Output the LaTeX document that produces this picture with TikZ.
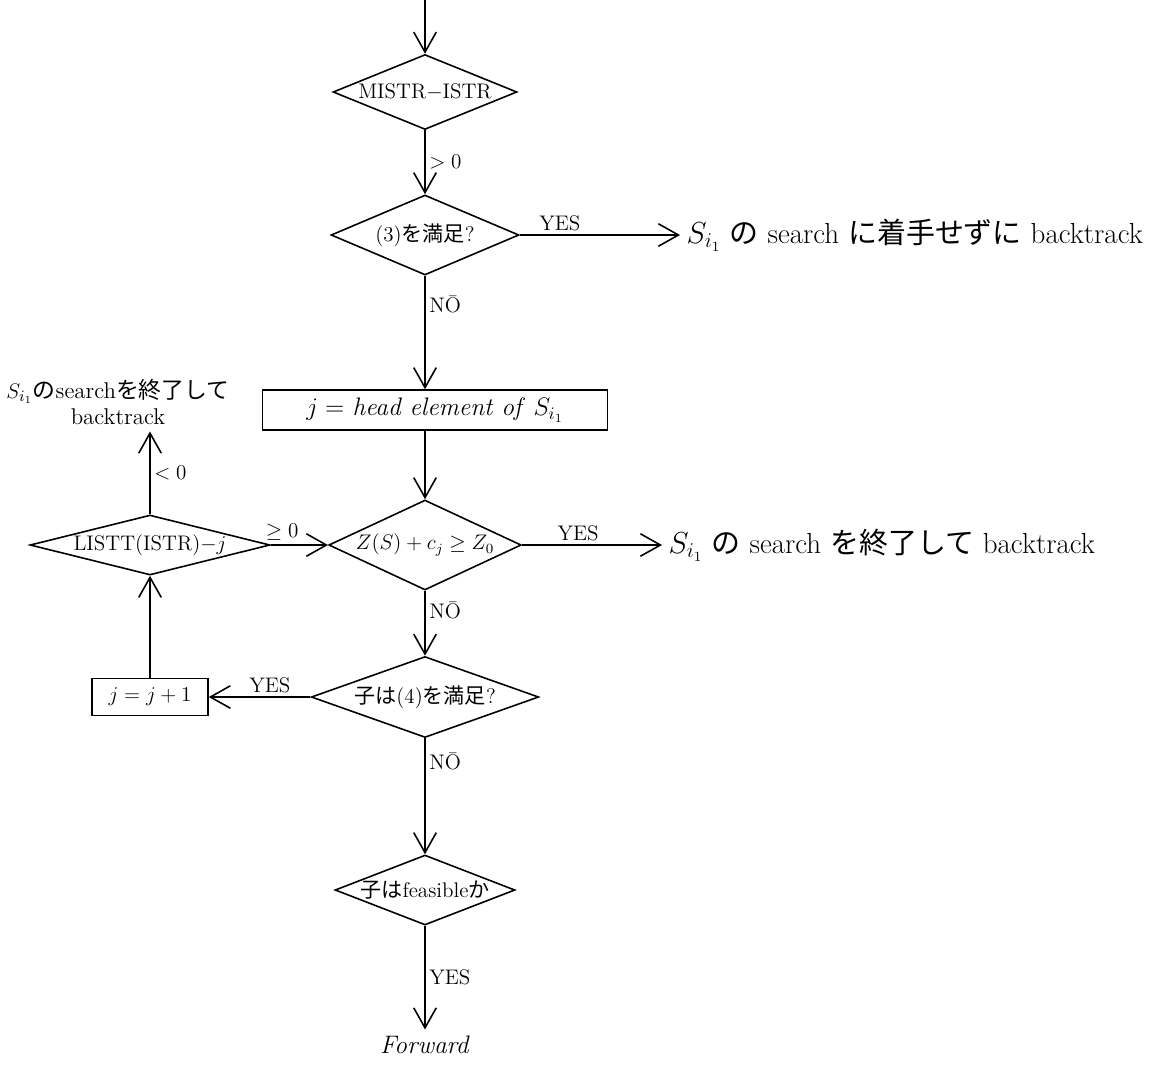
\documentclass[tikz,border=0pt]{standalone}
\usepackage{amsmath}
\usepackage{amssymb}
\usepackage{fontspec}
\usepackage{tikz}
\usetikzlibrary{shapes.geometric, arrows.meta}
\newfontfamily\jp{Noto Sans CJK JP}
\newcommand{\Sii}{S_{i_1}}

\begin{document}
\begin{tikzpicture}[x=0.02cm, y=-0.02cm, line width=0.9pt, font=\large,
    dec/.style={draw, diamond, inner sep=0pt},
    box/.style={draw, rectangle, inner sep=0pt},
    arr/.style={-{Straight Barb[length=4mm, width=4.5mm]}},
    lbl/.style={inner sep=2pt},
    far/.style={anchor=west, font=\fontsize{16.5}{19}\selectfont}]
  \useasboundingbox (0,0) rectangle (1175,1066);
  \coordinate (in) at (425,0);
  \node[dec, aspect=2.45, minimum width=3.68cm, minimum height=1.5cm] (d1) at (425,92) {MISTR$-$ISTR};
  \node[dec, aspect=2.35, minimum width=3.76cm, minimum height=1.6cm] (d2) at (425,235) {(3){\jp を満足}?};
  \node[box, minimum width=6.9cm, minimum height=0.8cm, font=\Large] (b1) at (435,410) {$j=$ \textit{head element of} $\Sii$};
  \node[dec, aspect=2.14, minimum width=3.85cm, minimum height=1.8cm] (d3) at (425,545) {$Z(S)+c_j\geq Z_0$};
  \node[dec, aspect=2.8, minimum width=4.55cm, minimum height=1.62cm] (d4) at (425,697) {{\jp 子は}(4){\jp を満足}?};
  \node[dec, aspect=4, minimum width=4.8cm, minimum height=1.2cm] (d5) at (150,545) {LISTT(ISTR)$-j$};
  \node[box, minimum width=2.32cm, minimum height=0.74cm] (b2) at (150,697) {$j=j+1$};
  \node[dec, aspect=2.57, minimum width=3.6cm, minimum height=1.4cm] (d6) at (425,890) {{\jp 子は}feasible{\jp か}};
  \node[far] (t1) at (680,235) {$\Sii$ {\jp の} search {\jp に着手せずに} backtrack};
  \node[far] (t2) at (662,545) {$\Sii$ {\jp の} search {\jp を終了して} backtrack};
  \node[align=center, font=\fontsize{13}{15}\selectfont] (t3) at (118,402) {$\Sii${\jp の}search{\jp を終了して}\\backtrack};
  \node[font=\Large] (fw) at (425,1045) {\textit{Forward}};

  \draw[arr] (in) -- (d1.north);
  \draw[arr] (d1.south) -- node[lbl, right] {$>0$} (d2.north);
  \draw[arr] (d2.east) -- node[lbl, above, pos=0.25] {YES} (t1.west);
  \draw[arr] (d2.south) -- node[lbl, right, pos=0.25] {N\=O} (d2.south |- b1.north);
  \draw[arr] (d2.south |- b1.south) -- (d3.north);
  \draw[arr] (d3.east) -- node[lbl, above, pos=0.4] {YES} (t2.west);
  \draw[arr] (d3.south) -- node[lbl, right, pos=0.3] {N\=O} (d4.north);
  \draw[arr] (d4.west) -- node[lbl, above, pos=0.4] {YES} (b2.east);
  \draw[arr] (b2.north) -- (d5.south);
  \draw[arr] (d5.north) -- node[lbl, right] {$<0$} (d5.north |- t3.south);
  \draw[arr] (d5.east) -- node[lbl, above, pos=0.2] {$\geq 0$} (d3.west);
  \draw[arr] (d4.south) -- node[lbl, right, pos=0.2] {N\=O} (d6.north);
  \draw[arr] (d6.south) -- node[lbl, right] {YES} (fw.north);
\end{tikzpicture}
\end{document}
